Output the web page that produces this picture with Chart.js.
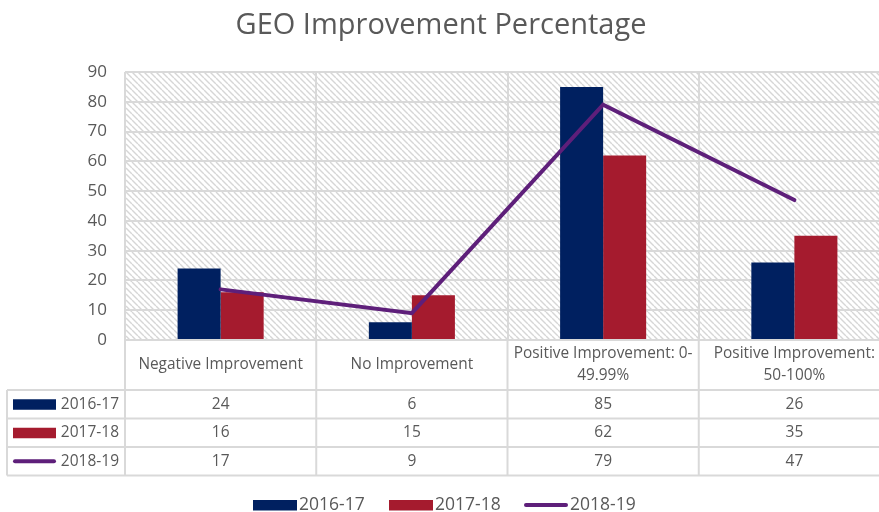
<!DOCTYPE html>
<html><head><meta charset="utf-8">
<script src="https://cdn.jsdelivr.net/npm/chart.js@4"></script>
<style>html,body{margin:0;padding:0;background:#fff;overflow:hidden;}canvas{display:block}</style>
</head><body>
<canvas id="c" width="892" height="512"></canvas>
<script>
const chartTitle = 'GEO Improvement Percentage';
const categories = [['Negative Improvement'], ['No Improvement'], ['Positive Improvement: 0-', '49.99%'], ['Positive Improvement:', '50-100%']];
const seriesNames = ['2016-17', '2017-18', '2018-19'];
const values2016 = [24, 6, 85, 26];
const values2017 = [16, 15, 62, 35];
const values2018 = [17, 9, 79, 47];
const yMin = 0, yMax = 90, yStep = 10;

const FONT = '"Open Sans", "DejaVu Sans", sans-serif';
const GRID = '#D9D9D9';
const TEXT = '#595959';
const NAVY = '#002060';
const RED = '#A51B2E';
const PURPLE = '#5E1F7A';

function makeHatch(ctx) {
  const s = 6;
  const c = document.createElement('canvas'); c.width = s; c.height = s;
  const g = c.getContext('2d');
  g.fillStyle = '#ffffff'; g.fillRect(0, 0, s, s);
  g.strokeStyle = '#d6d6d6'; g.lineWidth = 1.4;
  g.beginPath();
  for (const k of [-s, 0, s]) { g.moveTo(k, 0); g.lineTo(k + s, s); }
  g.stroke();
  return ctx.createPattern(c, 'repeat');
}

function seg(ctx, x1, y1, x2, y2) { ctx.beginPath(); ctx.moveTo(x1, y1); ctx.lineTo(x2, y2); ctx.stroke(); }

function drawKey(ctx, ds, x0, w, cy) {
  if (ds.type === 'line') {
    ctx.save(); ctx.strokeStyle = ds.borderColor; ctx.lineWidth = 4; ctx.lineCap = 'round';
    seg(ctx, x0 + 2, cy, x0 + w - 2, cy); ctx.restore();
  } else {
    ctx.fillStyle = ds.backgroundColor; ctx.fillRect(x0, cy - 5, w, 10.5);
  }
}

const tablePlugin = {
  id: 'tablePlugin',
  beforeDraw(chart) {
    const { ctx, chartArea: a } = chart;
    ctx.save();
    ctx.fillStyle = makeHatch(ctx);
    ctx.fillRect(a.left, a.top, a.right - a.left, a.bottom - a.top);
    ctx.restore();
  },
  afterDraw(chart) {
    const { ctx, chartArea: a, scales: { x } } = chart;
    const labels = chart.data.labels;
    const dsets = chart.data.datasets;
    const n = labels.length;
    const cw = (a.right - a.left) / n;
    const headTop = a.bottom, headBot = a.bottom + 50, rowH = 28.5;
    const tableLeft = 7;
    const tableBot = headBot + dsets.length * rowH;
    ctx.save();
    // title
    ctx.fillStyle = TEXT; ctx.font = '29px ' + FONT; ctx.textAlign = 'center'; ctx.textBaseline = 'middle';
    ctx.fillText(chartTitle, 441, 26);
    // grid of table
    ctx.strokeStyle = GRID; ctx.lineWidth = 2;
    for (let r = 0; r <= dsets.length; r++) { const y = headBot + r * rowH; seg(ctx, tableLeft, y, a.right, y); }
    seg(ctx, tableLeft, headBot, tableLeft, tableBot);
    for (let i = 0; i <= n; i++) { const xx = a.left + i * cw; seg(ctx, xx, headTop, xx, tableBot); }
    // header labels
    ctx.fillStyle = TEXT; ctx.font = '15.4px ' + FONT; ctx.textAlign = 'center'; ctx.textBaseline = 'middle';
    labels.forEach((lab, i) => {
      const lines = Array.isArray(lab) ? lab : [lab];
      const cx = x.getPixelForValue(i);
      const lh = 22;
      const y0 = (headTop + headBot) / 2 - (lines.length - 1) * lh / 2;
      lines.forEach((t, j) => ctx.fillText(t, cx, y0 + j * lh));
    });
    // rows
    dsets.forEach((ds, r) => {
      const cy = headBot + r * rowH + rowH / 2;
      drawKey(ctx, ds, 13, 43, cy);
      ctx.fillStyle = TEXT; ctx.font = '15.5px ' + FONT; ctx.textBaseline = 'middle';
      ctx.textAlign = 'right'; ctx.fillText(ds.label, 119, cy);
      ctx.textAlign = 'center';
      ds.data.forEach((v, i) => ctx.fillText(String(v), x.getPixelForValue(i), cy));
    });
    // bottom legend
    const legendY = 505;
    const keyX = [253, 389, 524];
    ctx.font = '17.5px ' + FONT; ctx.textAlign = 'left'; ctx.textBaseline = 'middle';
    dsets.forEach((ds, i) => {
      drawKey(ctx, ds, keyX[i], 44, legendY);
      ctx.fillStyle = TEXT; ctx.fillText(ds.label, keyX[i] + 46, legendY);
    });
    ctx.restore();
  }
};

new Chart(document.getElementById('c'), {
  data: {
    labels: categories,
    datasets: [
      { type: 'bar', label: seriesNames[0], data: values2016, backgroundColor: NAVY, order: 1 },
      { type: 'bar', label: seriesNames[1], data: values2017, backgroundColor: RED, order: 1 },
      { type: 'line', label: seriesNames[2], data: values2018, borderColor: PURPLE, backgroundColor: PURPLE, borderWidth: 4, pointRadius: 0, tension: 0, borderCapStyle: 'round', order: 0 }
    ]
  },
  options: {
    responsive: false,
    animation: false,
    layout: { padding: { left: 0, right: 2, top: 72, bottom: 172 } },
    datasets: { bar: { categoryPercentage: 0.45, barPercentage: 1 } },
    plugins: { legend: { display: false }, title: { display: false }, tooltip: { enabled: false } },
    scales: {
      x: {
        grid: { color: GRID, lineWidth: 2, offset: true, drawTicks: false },
        border: { display: false },
        ticks: { display: false }
      },
      y: {
        min: yMin, max: yMax,
        afterFit(scale) { scale.width = 125; },
        grid: { color: GRID, lineWidth: 2, drawTicks: false },
        border: { display: false },
        ticks: { stepSize: yStep, color: TEXT, padding: 18, font: { family: FONT, size: 17 } }
      }
    }
  },
  plugins: [tablePlugin]
});
</script>
</body></html>
